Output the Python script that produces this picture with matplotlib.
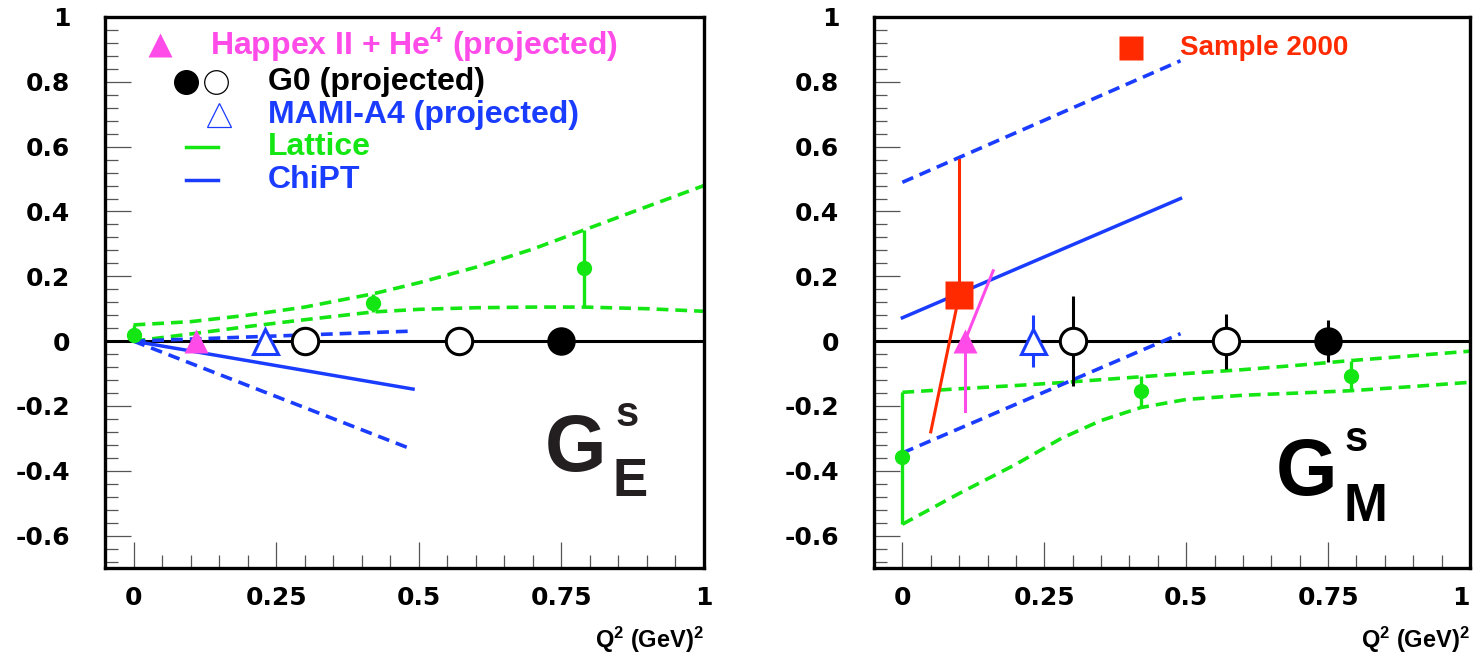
import matplotlib
matplotlib.use('Agg')
import matplotlib.pyplot as plt
from matplotlib.ticker import MultipleLocator, FixedLocator, FuncFormatter

plt.rcParams['font.family'] = ['Liberation Sans', 'DejaVu Sans']
plt.rcParams['font.weight'] = 'bold'
plt.rcParams['lines.scale_dashes'] = False
plt.rcParams['mathtext.fontset'] = 'custom'
plt.rcParams['mathtext.rm'] = 'Liberation Sans:bold'
plt.rcParams['mathtext.bf'] = 'Liberation Sans:bold'
plt.rcParams['mathtext.it'] = 'Liberation Sans:bold'
plt.rcParams['mathtext.default'] = 'bf'

# ---------------- data ----------------
x_ticks = [0, 0.25, 0.5, 0.75, 1]
y_ticks = [-0.6, -0.4, -0.2, 0, 0.2, 0.4, 0.6, 0.8, 1]

# G_E^s panel
latE_x = [0.0, 0.42, 0.79]
latE_y = [0.02, 0.117, 0.225]
latE_lo = [0.0, 0.09, 0.105]
latE_hi = [0.05, 0.146, 0.343]
latE_band_x = [0.0, 0.1, 0.2, 0.3, 0.42, 0.5, 0.6, 0.7, 0.79, 0.9, 1.0]
latE_band_up = [0.05, 0.06, 0.08, 0.105, 0.146, 0.18, 0.228, 0.284, 0.343, 0.415, 0.48]
latE_band_lo = [0.0, 0.022, 0.045, 0.066, 0.09, 0.098, 0.103, 0.105, 0.105, 0.1, 0.092]
chiE_x = [0.0, 0.49]
chiE_mid = [0.0, -0.148]
chiE_up = [0.0, 0.031]
chiE_lo = [0.0, -0.335]
happexE_x = [0.11]
happexE_y = [0.0]
mamiE_x = [0.23]
mamiE_y = [0.0]
g0open_x = [0.30, 0.57]
g0openE_y = [0.0, 0.0]
g0full_x = [0.75]
g0fullE_y = [0.0]

# G_M^s panel
latM_x = [0.0, 0.42, 0.79]
latM_y = [-0.358, -0.155, -0.109]
latM_lo = [-0.565, -0.201, -0.153]
latM_hi = [-0.158, -0.109, -0.06]
latM_band_x = [0.0, 0.1, 0.2, 0.28, 0.35, 0.42, 0.5, 0.6, 0.7, 0.79, 0.9, 1.0]
latM_band_up = [-0.158, -0.147, -0.137, -0.128, -0.119, -0.11, -0.1, -0.088, -0.074, -0.06, -0.045, -0.031]
latM_band_lo = [-0.565, -0.47, -0.38, -0.30, -0.245, -0.205, -0.18, -0.167, -0.16, -0.153, -0.14, -0.127]
chiM_x = [0.0, 0.49]
chiM_mid = [0.072, 0.44]
chiM_up = [0.49, 0.865]
chiM_lo = [-0.345, 0.023]
sample_x = [0.10]
sample_y = [0.142]
sample_up_line_x = [0.10, 0.10]
sample_up_line_y = [0.142, 0.56]
sample_lo_line_x = [0.10, 0.05]
sample_lo_line_y = [0.142, -0.28]
happexM_x = [0.11]
happexM_y = [0.0]
happexM_lo_line_x = [0.11, 0.11]
happexM_lo_line_y = [0.0, -0.217]
happexM_up_line_x = [0.11, 0.16]
happexM_up_line_y = [0.0, 0.217]
mamiM_x = [0.23]
mamiM_y = [0.0]
mamiM_err = [0.08]
g0openM_y = [0.0, 0.0]
g0openM_err = [0.14, 0.085]
g0fullM_y = [0.0]
g0fullM_err = [0.064]

# ---------------- style ----------------
GREEN = '#14e614'
BLUE = '#1a3cff'
MAGENTA = '#ff4be8'
RED = '#ff2a00'
DASH = (0, (8.5, 5.0))
TICKFONT = dict(family=['DejaVu Sans'], weight='bold', size=18)
LEGSIZE = 23

fig = plt.figure(figsize=(14.75, 6.61), dpi=100)
axL = fig.add_axes([105/1475, 1-568/661, 599/1475, 551/661])
axR = fig.add_axes([874/1475, 1-568/661, 596/1475, 551/661])


def style(ax):
    ax.set_xlim(-0.05, 1.0)
    ax.set_ylim(-0.7, 1.0)
    ax.xaxis.set_major_locator(FixedLocator(x_ticks))
    ax.yaxis.set_major_locator(FixedLocator(y_ticks))
    ax.xaxis.set_minor_locator(MultipleLocator(0.05))
    ax.yaxis.set_minor_locator(MultipleLocator(0.04))
    fmt = FuncFormatter(lambda v, p: '%g' % round(v, 3))
    ax.xaxis.set_major_formatter(fmt)
    ax.yaxis.set_major_formatter(fmt)
    ax.tick_params(which='both', direction='in', top=False, right=False,
                   width=0.9, color='#555555')
    ax.tick_params(which='major', length=19)
    ax.tick_params(which='minor', length=9.5)
    ax.tick_params(axis='y', pad=25)
    ax.tick_params(axis='x', pad=13)
    for lab in ax.get_xticklabels() + ax.get_yticklabels():
        lab.set_fontproperties(matplotlib.font_manager.FontProperties(**TICKFONT))
    for sp in ax.spines.values():
        sp.set_linewidth(2.4)
        sp.set_zorder(10)
    ax.axhline(0, color='k', lw=2.2, zorder=2)
    ax.text(1.0, -0.131, 'Q$^2$ (GeV)$^2$', transform=ax.transAxes,
            ha='right', va='center', fontsize=17, fontweight='bold')


style(axL)
style(axR)
# keep the last x tick label of the right panel inside the figure
axR.get_xticklabels()[-1].set_horizontalalignment('right')

# ---------- left panel ----------
ax = axL
ax.plot(latE_band_x, latE_band_up, color=GREEN, lw=2.6, linestyle=DASH, zorder=3)
ax.plot(latE_band_x, latE_band_lo, color=GREEN, lw=2.6, linestyle=DASH, zorder=3)
ax.vlines(latE_x, latE_lo, latE_hi, color=GREEN, lw=2.4, zorder=3)
ax.plot(latE_x, latE_y, 'o', color=GREEN, ms=10, zorder=4)
ax.plot(chiE_x, chiE_mid, color=BLUE, lw=2.5, zorder=3)
ax.plot(chiE_x, chiE_up, color=BLUE, lw=2.6, linestyle=DASH, zorder=3)
ax.plot(chiE_x, chiE_lo, color=BLUE, lw=2.6, linestyle=DASH, zorder=3)
ax.plot(happexE_x, happexE_y, '^', color=MAGENTA, ms=17, mec='none', zorder=5)
ax.plot(mamiE_x, mamiE_y, '^', color=BLUE, ms=18, mfc='white', mew=2.2, zorder=5)
ax.plot(g0open_x, g0openE_y, 'o', color='k', ms=19, mfc='white', mew=2.2, zorder=5)
ax.plot(g0full_x, g0fullE_y, 'o', color='k', ms=19.5, zorder=5)

# legend (left)
t = ax.transAxes
ax.plot([0.092], [0.949], '^', color=MAGENTA, ms=17, mec='none', transform=t, clip_on=False)
ax.text(0.175, 0.949, 'Happex II + He$^4$ (projected)', color=MAGENTA, transform=t,
        fontsize=LEGSIZE, fontweight='bold', va='center', ha='left')
ax.plot([0.135], [0.882], 'o', color='k', ms=17, transform=t)
ax.plot([0.185], [0.882], 'o', color='k', ms=17, mfc='white', mew=0.9, transform=t)
ax.text(0.272, 0.882, 'G0 (projected)', color='k', transform=t,
        fontsize=LEGSIZE, fontweight='bold', va='center', ha='left')
ax.plot([0.19], [0.822], '^', color=BLUE, ms=17, mfc='white', mew=0.9, transform=t)
ax.text(0.272, 0.822, 'MAMI-A4 (projected)', color=BLUE, transform=t,
        fontsize=LEGSIZE, fontweight='bold', va='center', ha='left')
ax.plot([0.135, 0.189], [0.764, 0.764], color=GREEN, lw=2.5, transform=t)
ax.text(0.272, 0.764, 'Lattice', color=GREEN, transform=t,
        fontsize=LEGSIZE, fontweight='bold', va='center', ha='left')
ax.plot([0.135, 0.189], [0.704, 0.704], color=BLUE, lw=2.5, transform=t)
ax.text(0.272, 0.704, 'ChiPT', color=BLUE, transform=t,
        fontsize=LEGSIZE, fontweight='bold', va='center', ha='left')

LBL = '#231f20'
ax.text(0.785, 0.214, 'G', transform=t, fontsize=57, fontweight='bold', color=LBL,
        ha='center', va='center')
ax.text(0.871, 0.278, 's', transform=t, fontsize=30, fontweight='bold', color=LBL,
        ha='center', va='center')
ax.text(0.876, 0.156, 'E', transform=t, fontsize=38, fontweight='bold', color=LBL,
        ha='center', va='center')

# ---------- right panel ----------
ax = axR
ax.plot(latM_band_x, latM_band_up, color=GREEN, lw=2.6, linestyle=DASH, zorder=3)
ax.plot(latM_band_x, latM_band_lo, color=GREEN, lw=2.6, linestyle=DASH, zorder=3)
ax.vlines(latM_x, latM_lo, latM_hi, color=GREEN, lw=2.4, zorder=3)
ax.plot(latM_x, latM_y, 'o', color=GREEN, ms=10, zorder=4)
ax.plot(chiM_x, chiM_mid, color=BLUE, lw=2.5, zorder=3)
ax.plot(chiM_x, chiM_up, color=BLUE, lw=2.6, linestyle=DASH, zorder=3)
ax.plot(chiM_x, chiM_lo, color=BLUE, lw=2.6, linestyle=DASH, zorder=3)
ax.plot(sample_up_line_x, sample_up_line_y, color=RED, lw=2.2, zorder=4)
ax.plot(sample_lo_line_x, sample_lo_line_y, color=RED, lw=2.2, zorder=4)
ax.plot(sample_x, sample_y, 's', color=RED, ms=20, mec='none', zorder=5)
ax.plot(happexM_lo_line_x, happexM_lo_line_y, color=MAGENTA, lw=2.2, zorder=4)
ax.plot(happexM_up_line_x, happexM_up_line_y, color=MAGENTA, lw=2.2, zorder=4)
ax.plot(happexM_x, happexM_y, '^', color=MAGENTA, ms=17, mec='none', zorder=5)
ax.errorbar(mamiM_x, mamiM_y, yerr=mamiM_err, fmt='^', color=BLUE, ms=18, mfc='white',
            mew=2.2, elinewidth=2.2, capsize=0, zorder=5)
ax.errorbar(g0open_x, g0openM_y, yerr=g0openM_err, fmt='o', color='k', ms=19, mfc='white',
            mew=2.2, elinewidth=2.2, capsize=0, zorder=5)
ax.errorbar(g0full_x, g0fullM_y, yerr=g0fullM_err, fmt='o', color='k', ms=19.5,
            elinewidth=2.2, capsize=0, zorder=5)

t = ax.transAxes
ax.plot([0.431], [0.944], 's', color=RED, ms=17, mec='none', transform=t)
ax.text(0.513, 0.944, 'Sample 2000', color=RED, transform=t,
        fontsize=20, fontweight='bold', va='center', ha='left')
ax.text(0.725, 0.169, 'G', transform=t, fontsize=57, fontweight='bold', color='k',
        ha='center', va='center')
ax.text(0.809, 0.232, 's', transform=t, fontsize=30, fontweight='bold', color='k',
        ha='center', va='center')
ax.text(0.824, 0.111, 'M', transform=t, fontsize=38, fontweight='bold', color='k',
        ha='center', va='center')

fig.savefig('out.png', dpi=100)
